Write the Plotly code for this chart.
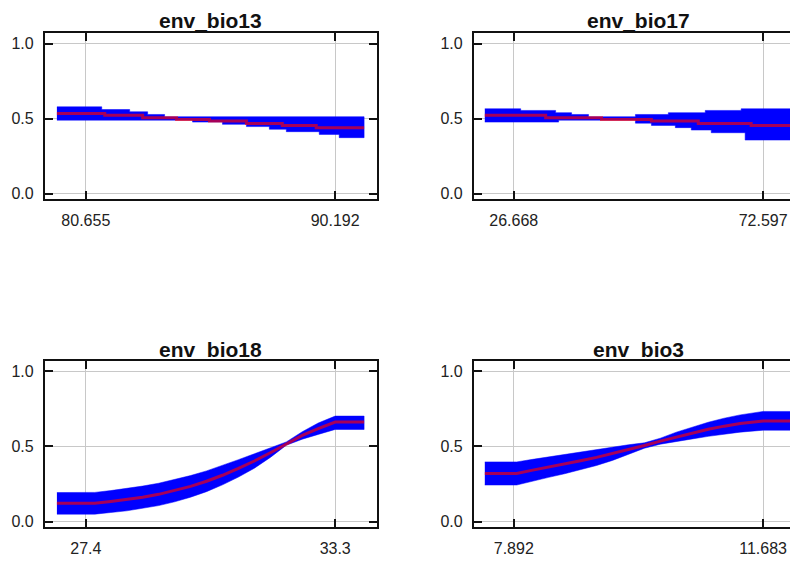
import plotly.graph_objects as go

# ---------------- data ----------------
titles = ["env_bio13", "env_bio17", "env_bio18", "env_bio3"]

# env_bio13 (step curves)
b13_xticks = [80.655, 90.192]
b13_upper_edges = [79.549, 81.265, 82.333, 83.020, 83.669, 91.298]
b13_upper = [0.579, 0.561, 0.546, 0.528, 0.513]
b13_lower_edges = [79.549, 84.737, 85.881, 86.797, 87.674, 88.323, 89.582, 90.345, 91.298]
b13_lower = [0.490, 0.477, 0.462, 0.447, 0.429, 0.413, 0.395, 0.373]
b13_mean_edges = [79.549, 81.380, 82.829, 84.126, 85.385, 86.797, 88.170, 89.467, 91.298]
b13_mean = [0.535, 0.522, 0.506, 0.495, 0.484, 0.468, 0.455, 0.440]

# env_bio17 (step curves)
b17_xticks = [26.668, 72.597]
b17_upper_edges = [21.340, 27.954, 34.384, 37.324, 40.447, 49.081, 55.144, 61.941, 68.555, 77.925]
b17_upper = [0.566, 0.555, 0.540, 0.528, 0.513, 0.528, 0.540, 0.555, 0.566]
b17_lower_edges = [21.340, 34.935, 49.081, 52.021, 56.430, 59.369, 63.044, 69.290, 77.925]
b17_lower = [0.477, 0.490, 0.470, 0.455, 0.440, 0.424, 0.406, 0.357]
b17_mean_edges = [21.340, 32.547, 42.835, 52.021, 60.655, 70.392, 77.925]
b17_mean = [0.522, 0.506, 0.495, 0.484, 0.468, 0.455]

# env_bio18 (smooth curves)
b18_xticks = [27.4, 33.3]
b18_x = [26.716, 27.612, 27.990, 28.368, 28.745, 29.123, 29.500, 29.878, 30.256,
         30.633, 31.011, 31.388, 31.766, 32.144, 32.521, 32.899, 33.300, 33.984]
b18_mean = [0.121, 0.121, 0.133, 0.145, 0.161, 0.181, 0.205, 0.234, 0.268,
            0.308, 0.354, 0.403, 0.458, 0.518, 0.573, 0.618, 0.662, 0.662]
b18_upper = [0.193, 0.194, 0.206, 0.219, 0.236, 0.255, 0.278, 0.306, 0.337,
             0.373, 0.412, 0.451, 0.489, 0.530, 0.598, 0.656, 0.702, 0.702]
b18_lower = [0.049, 0.049, 0.060, 0.071, 0.086, 0.106, 0.131, 0.162, 0.199,
             0.244, 0.296, 0.355, 0.427, 0.508, 0.548, 0.580, 0.613, 0.613]

# env_bio3 (smooth curves)
b3_xticks = [7.892, 11.683]
b3_x = [7.452, 7.937, 8.180, 8.423, 8.665, 8.908, 9.151, 9.393, 9.636,
        9.879, 10.121, 10.364, 10.606, 10.849, 11.092, 11.334, 11.683, 12.123]
b3_mean = [0.320, 0.320, 0.342, 0.362, 0.382, 0.404, 0.427, 0.452, 0.478,
           0.506, 0.535, 0.563, 0.590, 0.614, 0.635, 0.652, 0.669, 0.669]
b3_upper = [0.397, 0.397, 0.414, 0.430, 0.446, 0.463, 0.481, 0.498, 0.511,
            0.524, 0.555, 0.595, 0.630, 0.661, 0.688, 0.710, 0.733, 0.733]
b3_lower = [0.243, 0.243, 0.270, 0.294, 0.318, 0.344, 0.373, 0.407, 0.446,
            0.488, 0.515, 0.531, 0.550, 0.567, 0.582, 0.595, 0.608, 0.608]

y_tickvals = [0.0, 0.5, 1.0]
y_ticktext = ["0.0", "0.5", "1.0"]

# ---------------- helpers ----------------
def stairs(edges, vals):
    xs, ys = [], []
    for i, v in enumerate(vals):
        xs += [edges[i], edges[i + 1]]
        ys += [v, v]
    return xs, ys

panels = [
    dict(up=stairs(b13_upper_edges, b13_upper), lo=stairs(b13_lower_edges, b13_lower),
         mn=stairs(b13_mean_edges, b13_mean), ticks=b13_xticks),
    dict(up=stairs(b17_upper_edges, b17_upper), lo=stairs(b17_lower_edges, b17_lower),
         mn=stairs(b17_mean_edges, b17_mean), ticks=b17_xticks),
    dict(up=(b18_x, b18_upper), lo=(b18_x, b18_lower), mn=(b18_x, b18_mean), ticks=b18_xticks),
    dict(up=(b3_x, b3_upper), lo=(b3_x, b3_lower), mn=(b3_x, b3_mean), ticks=b3_xticks),
]

# The page body has an 8px margin, so figure px = screen px - 8.
W, H = 800, 556
col_px = [(37, 370), (467, 800)]
row_px = [(25, 192), (355, 522)]
x_ranges = [[79.091, 91.794], [19.319, 80.497], [26.432, 34.291], [7.285, 12.335]]
y_ranges = [[-0.0365, 1.0731], [-0.0377, 1.0682]]
title_cx = [203.5, 632.0]

fig = go.Figure()
FONT = "Liberation Sans, Arial, Helvetica, sans-serif"
layout = dict(width=W, height=H, margin=dict(l=0, r=0, t=0, b=0),
              paper_bgcolor="white", plot_bgcolor="white", showlegend=False)
annotations = []

for k, p in enumerate(panels):
    r, c = divmod(k, 2)
    idx = "" if k == 0 else str(k + 1)
    xa, ya = "x" + idx, "y" + idx
    xu, yu = p["up"]
    xl, yl = p["lo"]
    fig.add_trace(go.Scatter(x=list(xu) + list(xl)[::-1], y=list(yu) + list(yl)[::-1],
                             fill="toself", fillcolor="#0000ff", mode="lines",
                             line=dict(width=0.5, color="#0000ff"),
                             hoverinfo="skip", xaxis=xa, yaxis=ya))
    xm, ym = p["mn"]
    fig.add_trace(go.Scatter(x=xm, y=ym, mode="lines",
                             line=dict(color="rgba(255,0,0,0.65)", width=3),
                             xaxis=xa, yaxis=ya))
    l, rr = col_px[c]
    t, b = row_px[r]
    axis_common = dict(showline=True, linecolor="#111", linewidth=2,
                       ticks="inside", ticklen=8, tickwidth=2, tickcolor="#111",
                       showgrid=True, gridcolor="#c8c8c8", gridwidth=1,
                       zeroline=False, tickfont=dict(family=FONT, size=16, color="#222"),
                       fixedrange=True)
    layout["xaxis" + idx] = dict(axis_common, domain=[l / W, rr / W], range=x_ranges[k],
                                 anchor=ya, tickvals=p["ticks"],
                                 ticktext=[str(v) for v in p["ticks"]],
                                 mirror="ticks", ticklabelstandoff=6)
    layout["yaxis" + idx] = dict(axis_common, domain=[1 - b / H, 1 - t / H], range=y_ranges[r],
                                 anchor=xa, tickvals=y_tickvals, ticktext=y_ticktext,
                                 mirror="ticks", ticklabelstandoff=6)
    annotations.append(dict(text="<b>" + titles[k] + "</b>", xref="paper", yref="paper",
                            x=title_cx[c] / W, y=1 - (t - 12) / H, xanchor="center",
                            yanchor="middle", showarrow=False,
                            font=dict(family=FONT, size=21, color="#111")))

layout["annotations"] = annotations
fig.update_layout(**layout)
fig.write_html("out.html")
